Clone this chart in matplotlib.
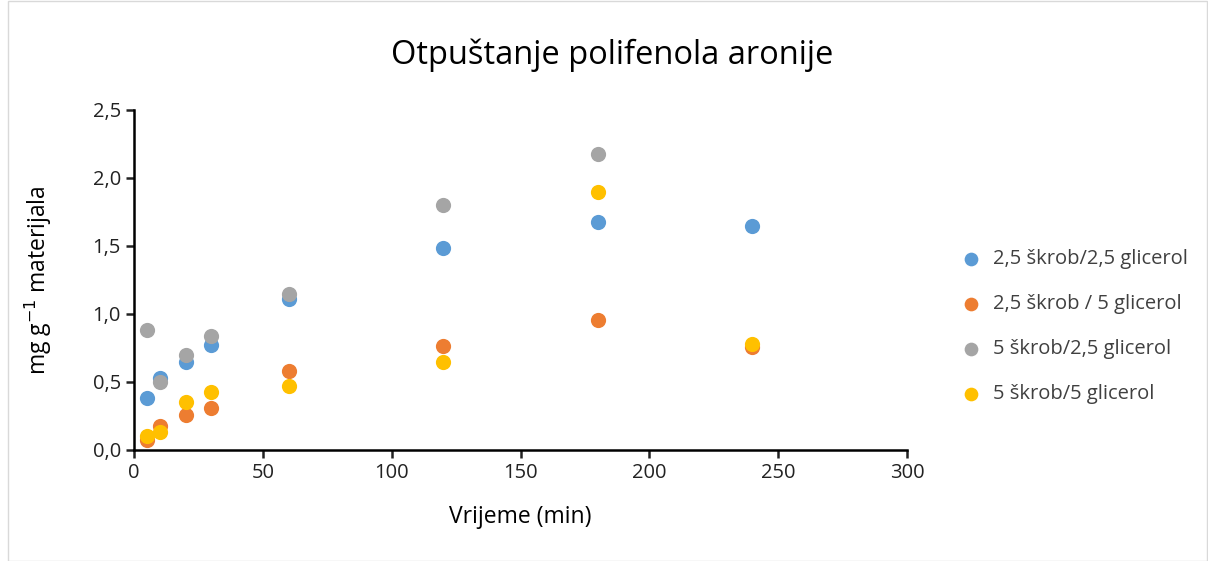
import numpy as np
import matplotlib.pyplot as plt

plt.rcParams['font.family'] = ['Open Sans', 'DejaVu Sans']

vrijeme = [5, 10, 20, 30, 60, 120, 180, 240]
s25_g25 = [0.38, 0.53, 0.65, 0.77, 1.11, 1.485, 1.68, 1.65]
s25_g5 = [0.07, 0.18, 0.26, 0.31, 0.58, 0.765, 0.955, 0.76]
s5_g25 = [0.88, 0.50, 0.70, 0.84, 1.15, 1.80, 2.18]
s5_g5 = [0.10, 0.13, 0.35, 0.43, 0.47, 0.65, 1.90, 0.78]

series = [
    ('2,5 škrob/2,5 glicerol', vrijeme, s25_g25, '#5B9BD5'),
    ('2,5 škrob / 5 glicerol', vrijeme, s25_g5, '#ED7D31'),
    ('5 škrob/2,5 glicerol', vrijeme[:len(s5_g25)], s5_g25, '#A5A5A5'),
    ('5 škrob/5 glicerol', vrijeme, s5_g5, '#FFC000'),
]

fig = plt.figure(figsize=(12.08, 5.61), dpi=100)
ax = fig.add_axes([134/1208, 1 - 450/561, (907-134)/1208, (450-110)/561])

for name, x, y, c in series:
    ax.scatter(x, y, s=120, color=c, label=name, zorder=3, linewidths=0)

ax.set_xlim(0, 300)
ax.set_ylim(0, 2.5)
ax.set_xticks(np.arange(0, 301, 50))
ax.set_yticks(np.arange(0, 2.51, 0.5))
ax.set_yticklabels([f'{v:.1f}'.replace('.', ',') for v in np.arange(0, 2.51, 0.5)])
for sp in ['top', 'right']:
    ax.spines[sp].set_visible(False)
for sp in ['left', 'bottom']:
    ax.spines[sp].set_linewidth(1.8)
ax.tick_params(axis='both', labelsize=14.5, width=1.8, length=6, direction='out', colors='#222222')
ax.set_xlabel('Vrijeme (min)', fontsize=16.5, labelpad=16)
ax.set_ylabel('mg g$^{-1}$ materijala', fontsize=16.5, labelpad=28)
fig.text(612/1208, 1 - 55/561, 'Otpuštanje polifenola aronije', fontsize=23.5, ha='center', va='center')

leg = ax.legend(loc='upper left', bbox_to_anchor=(799/773, 0.645), frameon=False,
                fontsize=14.5, handletextpad=0.1, labelspacing=1.25, markerscale=0.9)
for t in leg.get_texts():
    t.set_color('#404040')

fig.patches.append(plt.Rectangle((8/1208, 0), 1 - 8/1208 - 0.001, 0.999, transform=fig.transFigure,
                                 fill=False, edgecolor='#D9D9D9', linewidth=1))
fig.savefig('out.png', dpi=100)
